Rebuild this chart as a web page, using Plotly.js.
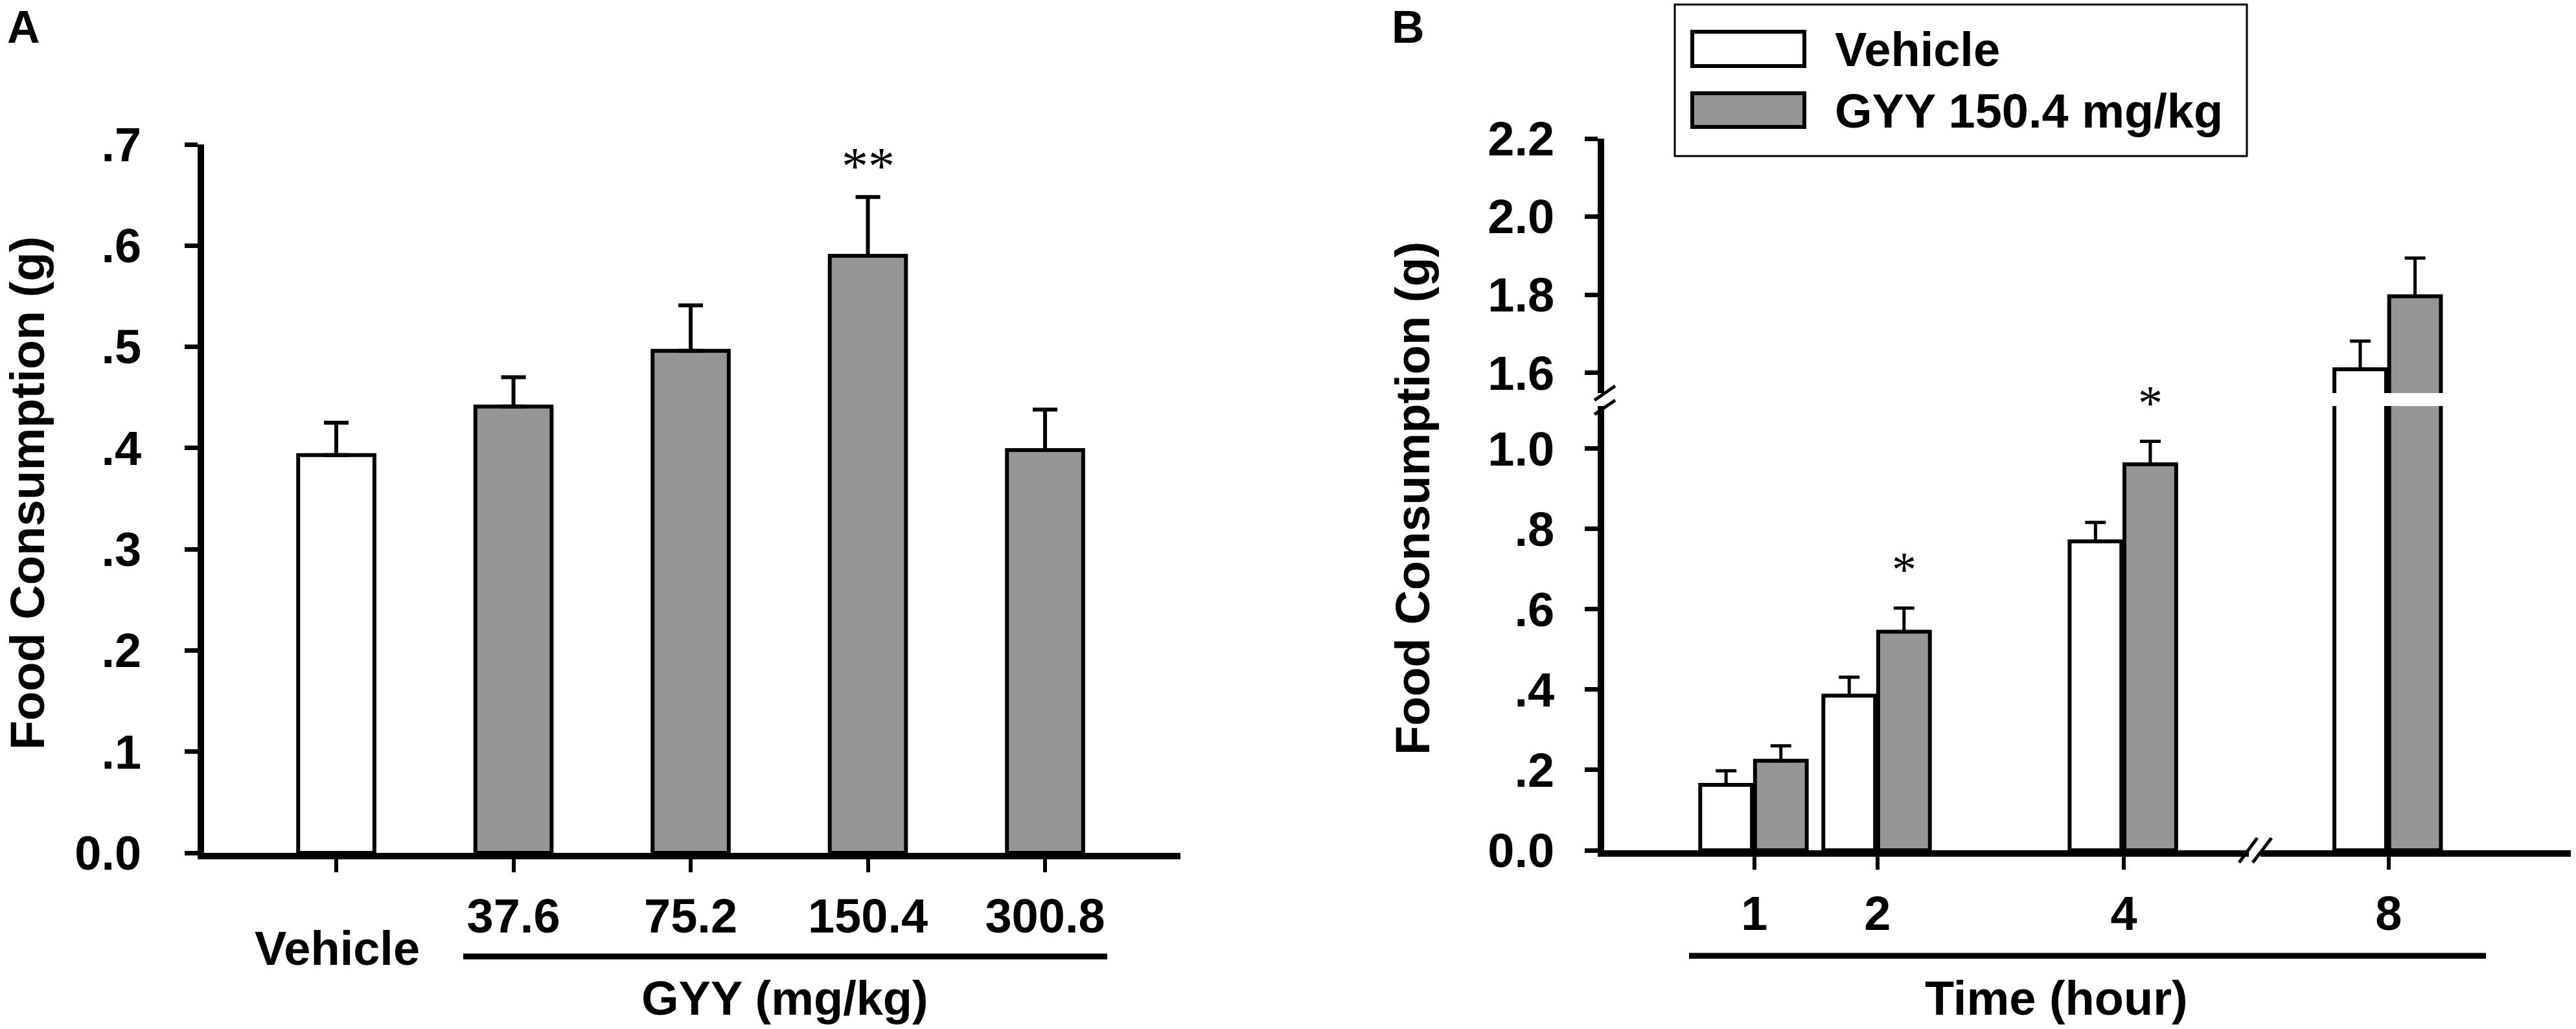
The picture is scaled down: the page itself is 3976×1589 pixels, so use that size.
<!DOCTYPE html>
<html>
<head>
<meta charset="utf-8">
<script src="https://cdn.plot.ly/plotly-3.0.1.min.js"></script>
<style>
  html, body { margin: 0; padding: 0; background: #fff; }
  #chart { width: 3976px; height: 1589px; }
</style>
</head>
<body>
<div id="chart"></div>
<script>
// Food consumption, two panels: A = dose response, B = time course (broken axes)

// ── Data ──────────────────────────────────────────────────────────────────────
const doseCats   = ['Vehicle', '37.6', '75.2', '150.4', '300.8'];
const doseMean   = [0.393, 0.441, 0.496, 0.590, 0.398];
const doseSem    = [0.032, 0.029, 0.045, 0.058, 0.040];
const doseSig    = ['', '', '', '**', ''];

const hourLabels = ['1', '2', '4', '8'];
const hourPos    = [1, 2, 4, 6.15];          // 8 h sits after the axis break
const vehMean    = [0.163, 0.385, 0.769, 1.609];
const vehSem     = [0.035, 0.046, 0.047, 0.072];
const gyyMean    = [0.223, 0.544, 0.961, 1.796];
const gyySem     = [0.037, 0.059, 0.057, 0.098];
const gyySig     = ['', '*', '*', ''];
const seriesNames = ['Vehicle', 'GYY 150.4 mg/kg'];

const yTicksA     = [0, 0.1, 0.2, 0.3, 0.4, 0.5, 0.6, 0.7];
const yLabelsA    = ['0.0', '.1', '.2', '.3', '.4', '.5', '.6', '.7'];
const yTicksLow   = [0, 0.2, 0.4, 0.6, 0.8, 1.0];
const yLabelsLow  = ['0.0', '.2', '.4', '.6', '.8', '1.0'];
const yTicksHigh  = [1.6, 1.8, 2.0, 2.2];
const yLabelsHigh = ['1.6', '1.8', '2.0', '2.2'];

// ── Helpers ───────────────────────────────────────────────────────────────────
const W = 3976, H = 1589;
const fx = px => px / W;
const fy = py => 1 - py / H;

const GRAY  = '#969696';
const FONT  = 'Liberation Sans, Arial, sans-serif';
const SERIF = 'Liberation Serif, Times New Roman, serif';
const txt   = (size) => ({ family: FONT, size, color: '#000', weight: 'bold' });

const BW = 0.42;                 // bar width in B (hours)
const OFF = [-0.44, 0.005];      // vehicle / GYY offsets in B

function axisBase(extra) {
  return Object.assign({
    showline: true, linecolor: '#000', linewidth: 10,
    ticks: 'outside', ticklen: 20, tickwidth: 7, tickcolor: '#000',
    showgrid: false, zeroline: false, fixedrange: true,
    tickfont: txt(74),
  }, extra);
}

// ── Traces ────────────────────────────────────────────────────────────────────
const traces = [];

traces.push({
  type: 'bar', x: doseCats, y: doseMean, xaxis: 'x', yaxis: 'y',
  width: 0.43,
  marker: {
    color: doseCats.map(c => c === 'Vehicle' ? '#fff' : GRAY),
    line: { color: '#000', width: 6 },
  },
  error_y: {
    type: 'data', symmetric: false, array: doseSem,
    arrayminus: doseSem.map(() => 0),
    color: '#000', thickness: 6, width: 19,
  },
  showlegend: false, hoverinfo: 'skip',
});

// time course drawn on both the lower and upper y segments
['y2', 'y3'].forEach(ya => {
  [[vehMean, vehSem, '#fff', 0], [gyyMean, gyySem, GRAY, 1]].forEach(([m, s, col, k]) => {
    traces.push({
      type: 'bar', x: hourPos, y: m, xaxis: 'x2', yaxis: ya,
      width: BW, offset: OFF[k],
      marker: { color: col, line: { color: '#000', width: 6 } },
      error_y: {
        type: 'data', symmetric: false, array: s, arrayminus: s.map(() => 0),
        color: '#000', thickness: 5, width: 16,
      },
      name: seriesNames[k], showlegend: false, hoverinfo: 'skip',
    });
  });
});

// ── Annotations ───────────────────────────────────────────────────────────────
const ann = [];
const label = (text, px, py, size, extra) => ann.push(Object.assign({
  text, xref: 'paper', yref: 'paper', x: fx(px), y: fy(py),
  xanchor: 'center', yanchor: 'middle', showarrow: false, font: txt(size),
}, extra));

label('A', 36, 1, 70, { yanchor: 'top' });
label('B', 2173, 1, 70, { yanchor: 'top' });
label('Food Consumption (g)', 42, 762, 74, { textangle: -90 });
label('Food Consumption (g)', 2180, 770, 74, { textangle: -90 });
label(doseCats[0], 520, 1464, 74);
label('GYY (mg/kg)', 1211, 1541, 74);
label('Time (hour)', 3174, 1541, 74);

doseSig.forEach((s, i) => {
  if (!s) return;
  ann.push({ text: s, xref: 'x', yref: 'y', x: i, y: doseMean[i] + doseSem[i],
    yanchor: 'middle', yshift: 48, showarrow: false,
    font: { family: SERIF, size: 82, color: '#000' } });
});
gyySig.forEach((s, i) => {
  if (!s) return;
  ann.push({ text: s, xref: 'x2', yref: 'y2', x: hourPos[i] + OFF[1] + BW / 2,
    y: gyyMean[i] + gyySem[i], yanchor: 'middle', yshift: 60, showarrow: false,
    font: { family: SERIF, size: 76, color: '#000' } });
});

// legend text
label(seriesNames[0], 2830, 76, 74, { xanchor: 'left' });
label(seriesNames[1], 2830, 171, 74, { xanchor: 'left' });

// ── Shapes (legend box, brackets, axis breaks) ───────────────────────────────
const rect = (x0, y0, x1, y1, fill, lw) => ({
  type: 'rect', xref: 'paper', yref: 'paper',
  x0: fx(x0), x1: fx(x1), y0: fy(y0), y1: fy(y1),
  fillcolor: fill, line: { color: lw ? '#000' : fill, width: lw || 0 },
});
const seg = (x0, y0, x1, y1, lw) => ({
  type: 'line', xref: 'paper', yref: 'paper',
  x0: fx(x0), x1: fx(x1), y0: fy(y0), y1: fy(y1),
  line: { color: '#000', width: lw },
});

const shapes = [
  rect(2585, 7, 3468, 241, 'rgba(0,0,0,0)', 3),
  rect(2612, 49, 2785, 102, '#fff', 6),
  rect(2612, 144, 2785, 196, GRAY, 6),
  seg(715, 1477, 1709, 1477, 9),
  seg(2607, 1476, 3837, 1476, 9),
  // y-axis break
  seg(2461, 618, 2493, 596, 5),
  seg(2461, 640, 2493, 618, 5),
  // x-axis break
  rect(3471, 1300, 3489, 1327, '#fff', 0),
  seg(3456, 1332, 3484, 1294, 5),
  seg(3477, 1332, 3506, 1294, 5),
];

// ── Layout ────────────────────────────────────────────────────────────────────
const layout = {
  width: W, height: H,
  margin: { l: 0, r: 0, t: 0, b: 0 },
  paper_bgcolor: '#fff', plot_bgcolor: 'rgba(0,0,0,0)',
  showlegend: false, bargap: 0,
  xaxis: axisBase({
    domain: [fx(315), fx(1822)], anchor: 'y', type: 'category',
    range: [-0.746, 4.764], tickvals: doseCats,
    ticktext: doseCats.map(c => c === 'Vehicle' ? '' : c),
    ticklabelstandoff: 4, tickwidth: 6,
  }),
  yaxis: axisBase({
    domain: [fy(1317), fy(223)], anchor: 'x', range: [0, 0.7],
    tickvals: yTicksA, ticktext: yLabelsA, ticklabelstandoff: 52,
  }),
  xaxis2: axisBase({
    domain: [fx(2476), fx(3968)], anchor: 'y2',
    range: [-0.22, 7.63], tickvals: hourPos, ticktext: hourLabels,
    ticklabelstandoff: 4, tickwidth: 6,
  }),
  yaxis2: axisBase({
    domain: [fy(1313), fy(627)], anchor: 'x2', range: [0, 1.106],
    tickvals: yTicksLow, ticktext: yLabelsLow, ticklabelstandoff: 32,
  }),
  yaxis3: axisBase({
    domain: [fy(607), fy(214)], anchor: 'x2', range: [1.548, 2.2],
    tickvals: yTicksHigh, ticktext: yLabelsHigh, ticklabelstandoff: 32,
  }),
  annotations: ann,
  shapes: shapes,
};

Plotly.newPlot('chart', traces, layout, { displayModeBar: false, staticPlot: true });
</script>
</body>
</html>
